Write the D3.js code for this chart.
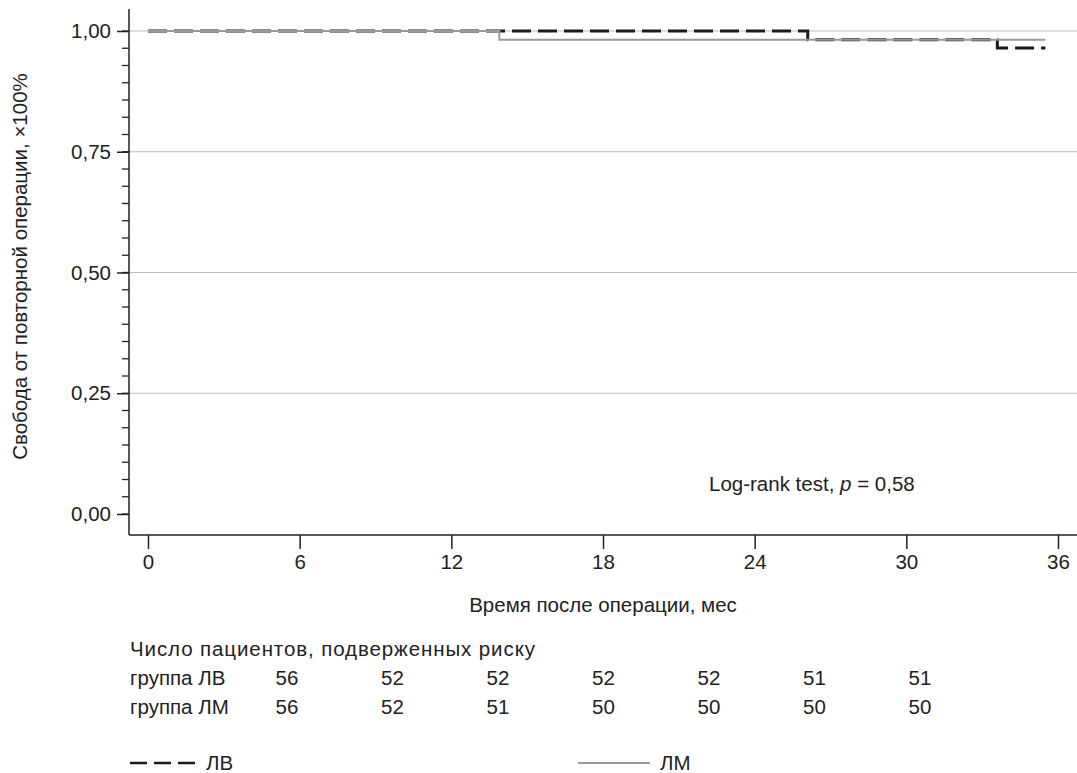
<!DOCTYPE html>
<html>
<head>
<meta charset="utf-8">
<script src="https://cdn.jsdelivr.net/npm/d3@7"></script>
<style>
  body { margin: 0; background: #fff; }
  svg { display: block; font-family: "Liberation Sans", Arial, sans-serif; }
</style>
</head>
<body>
<div id="chart"></div>
<script>
// 1: DATA
const months = [0, 6, 12, 18, 24, 30, 36];
const yTicks = [0, 0.25, 0.5, 0.75, 1];
const yTickLabels = ["0,00", "0,25", "0,50", "0,75", "1,00"];

// step curves: [month, survival]
const lvSteps = [[0, 1], [26.1, 1], [26.1, 0.982], [33.6, 0.982], [33.6, 0.965], [35.5, 0.965]];
const lmSteps = [[0, 1], [13.9, 1], [13.9, 0.982], [35.5, 0.982]];

const riskGroups = ["группа ЛВ", "группа ЛМ"];
const riskLV = [56, 52, 52, 52, 52, 51, 51];
const riskLM = [56, 52, 51, 50, 50, 50, 50];

// 2: SETUP
const W = 1077, H = 773;
const fs = 20.5;

const svg = d3.select("#chart").append("svg")
    .attr("width", W)
    .attr("height", H);

const x = d3.scaleLinear().domain([0, 36]).range([148, 1058]);
const y = d3.scaleLinear().domain([0, 1]).range([514, 31]);
const axisX = 129, axisY = 535;

// 3: GRID
svg.append("g")
    .selectAll("line")
    .data(yTicks.filter(d => d > 0))
    .join("line")
    .attr("x1", axisX).attr("x2", W)
    .attr("y1", d => y(d)).attr("y2", d => y(d))
    .attr("stroke", "#bdbdbd")
    .attr("stroke-width", 1.2);

// 4: AXES
// y minor ticks (7 per quarter)
const minor = d3.range(0, 29).map(i => i * 0.25 / 7).filter(v => v <= 1.0001);
svg.append("g")
    .selectAll("line")
    .data(minor)
    .join("line")
    .attr("x1", axisX - 7).attr("x2", axisX)
    .attr("y1", d => y(d)).attr("y2", d => y(d))
    .attr("stroke", "#222").attr("stroke-width", 1.3);

const yAxis = svg.append("g")
    .attr("transform", `translate(${axisX},0)`)
    .call(d3.axisLeft(y).tickValues(yTicks)
        .tickFormat((d, i) => yTickLabels[i])
        .tickSize(12).tickPadding(6));
yAxis.select(".domain").remove();
yAxis.selectAll(".tick line").attr("stroke", "#222").attr("stroke-width", 1.5);
yAxis.selectAll("text").attr("font-size", fs).attr("fill", "#222")
    .attr("font-family", "Liberation Sans, Arial, sans-serif");

svg.append("line")
    .attr("x1", axisX).attr("x2", axisX)
    .attr("y1", 9).attr("y2", axisY)
    .attr("stroke", "#222").attr("stroke-width", 1.5);

const xAxis = svg.append("g")
    .attr("transform", `translate(0,${axisY})`)
    .call(d3.axisBottom(x).tickValues(months).tickSize(14).tickPadding(5));
xAxis.select(".domain").remove();
xAxis.selectAll(".tick line").attr("stroke", "#222").attr("stroke-width", 1.5);
xAxis.selectAll("text").attr("font-size", fs).attr("fill", "#222")
    .attr("font-family", "Liberation Sans, Arial, sans-serif");

svg.append("line")
    .attr("x1", axisX).attr("x2", W)
    .attr("y1", axisY).attr("y2", axisY)
    .attr("stroke", "#222").attr("stroke-width", 1.5);

// axis labels
svg.append("text")
    .attr("transform", `translate(27,${(y(0) + y(1)) / 2 - 6}) rotate(-90)`)
    .attr("text-anchor", "middle")
    .attr("font-size", fs).attr("fill", "#222")
    .text("Свобода от повторной операции, ×100%");

svg.append("text")
    .attr("x", x(18)).attr("y", 612)
    .attr("text-anchor", "middle")
    .attr("font-size", fs).attr("fill", "#222")
    .text("Время после операции, мес");

// 5: CURVES
const line = d3.line().x(d => x(d[0])).y(d => y(d[1]));

svg.append("path")
    .datum(lvSteps)
    .attr("d", line)
    .attr("fill", "none")
    .attr("stroke", "#1a1a1a")
    .attr("stroke-width", 3)
    .attr("stroke-dasharray", "19,7");

svg.append("path")
    .datum(lmSteps)
    .attr("d", line)
    .attr("fill", "none")
    .attr("stroke", "#999")
    .attr("stroke-width", 2);

// p-value
const pv = svg.append("text")
    .attr("x", 709).attr("y", 491)
    .attr("font-size", fs).attr("fill", "#222");
pv.append("tspan").text("Log-rank test, ");
pv.append("tspan").attr("font-style", "italic").text("p");
pv.append("tspan").text(" = 0,58");

// 6: RISK TABLE
const col = d3.scalePoint().domain(months).range([287, 920]);

svg.append("text")
    .attr("x", 130).attr("y", 656)
    .attr("font-size", fs).attr("fill", "#222")
    .attr("letter-spacing", 0.9)
    .text("Число пациентов, подверженных риску");

[riskLV, riskLM].forEach((row, r) => {
    const ry = 685 + r * 29;
    svg.append("text")
        .attr("x", 130).attr("y", ry)
        .attr("font-size", fs).attr("fill", "#222")
        .text(riskGroups[r]);
    svg.append("g")
        .selectAll("text")
        .data(row)
        .join("text")
        .attr("x", (d, i) => col(months[i]))
        .attr("y", ry)
        .attr("text-anchor", "middle")
        .attr("font-size", fs).attr("fill", "#222")
        .text(d => d);
});

// 7: LEGEND
svg.append("line")
    .attr("x1", 130).attr("x2", 196)
    .attr("y1", 763).attr("y2", 763)
    .attr("stroke", "#1a1a1a").attr("stroke-width", 2.5)
    .attr("stroke-dasharray", "17,7");
svg.append("text")
    .attr("x", 206).attr("y", 770)
    .attr("font-size", fs).attr("fill", "#222")
    .text("ЛВ");

svg.append("line")
    .attr("x1", 578).attr("x2", 650)
    .attr("y1", 763).attr("y2", 763)
    .attr("stroke", "#999").attr("stroke-width", 2);
svg.append("text")
    .attr("x", 660).attr("y", 770)
    .attr("font-size", fs).attr("fill", "#222")
    .text("ЛМ");
</script>
</body>
</html>
